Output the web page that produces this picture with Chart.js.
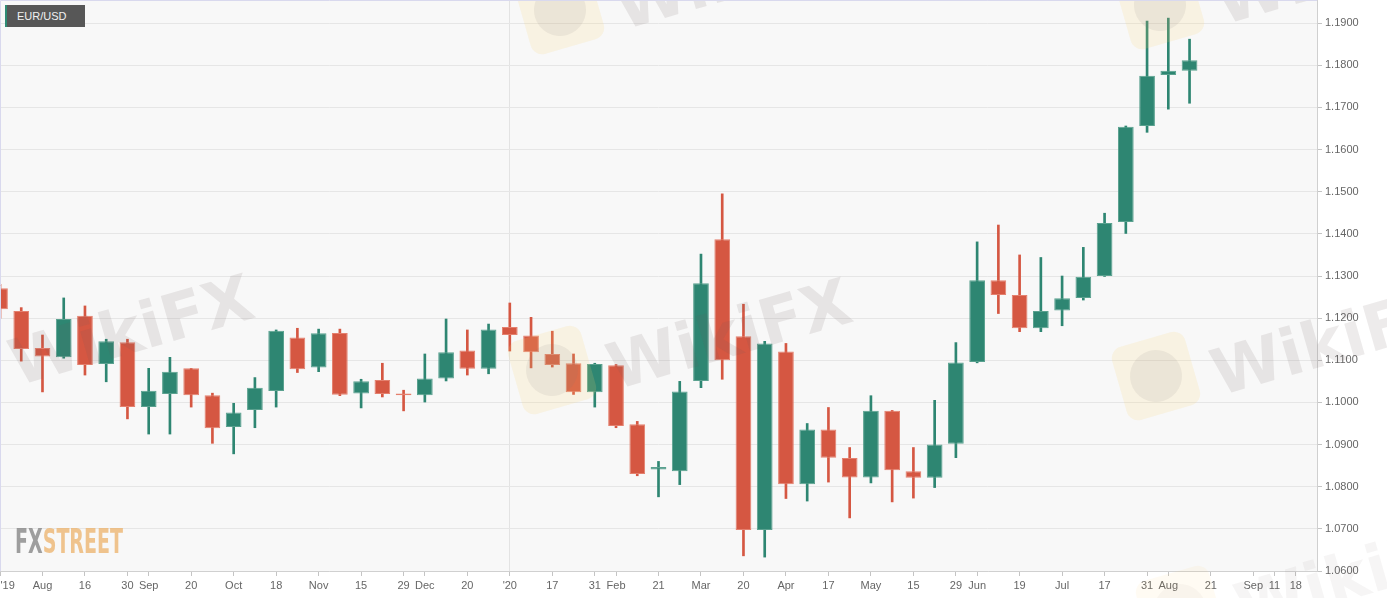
<!DOCTYPE html>
<html>
<head>
<meta charset="utf-8">
<title>EUR/USD weekly</title>
<script src="https://cdn.jsdelivr.net/npm/chart.js@4.4.0/dist/chart.umd.min.js"></script>
<style>
  html, body { margin: 0; padding: 0; background: #fff; overflow: hidden; }
  #wrap { position: relative; width: 1387px; height: 598px; }
  #pair {
    position: absolute; left: 5px; top: 5px; width: 80px; height: 22px;
    background: #575757; border-left: 2px solid #2e8b74;
    color: #f0f0f0; font: 11px "Liberation Sans", Arial, sans-serif;
    line-height: 22px; padding-left: 10px; box-sizing: border-box;
  }
</style>
</head>
<body>
<div id="wrap">
  <canvas id="chart"></canvas>
  <div id="pair">EUR/USD</div>
</div>
<script>
// one category per week, only some of them carry a tick label
const weekTicks = [
  "'19", '', 'Aug', '', '16', '', '30', 'Sep', '', '20',
  '', 'Oct', '', '18', '', 'Nov', '', '15', '', '29',
  'Dec', '', '20', '', "'20", '', '17', '', '31', 'Feb',
  '', '21', '', 'Mar', '', '20', '', 'Apr', '', '17',
  '', 'May', '', '15', '', '29', 'Jun', '', '19', '',
  'Jul', '', '17', '', '31', 'Aug', '', '21', '', 'Sep',
  '11', '18', ''
];

// weekly candles
const opens = [
  1.1271, 1.1217, 1.1129, 1.1107, 1.1206, 1.1091, 1.1143, 1.0989, 1.1020, 1.1081,
  1.1017, 1.0942, 1.0982, 1.1027, 1.1154, 1.1083, 1.1165, 1.1021, 1.1053, 1.1021,
  1.1017, 1.1057, 1.1123, 1.1080, 1.1179, 1.1159, 1.1115, 1.1093, 1.1024, 1.1088,
  1.0948, 1.0841, 1.0837, 1.1051, 1.1387, 1.1157, 1.0697, 1.1121, 1.0806, 1.0936,
  1.0868, 1.0822, 1.0980, 1.0837, 1.0821, 1.0902, 1.1096, 1.1290, 1.1255, 1.1176,
  1.1218, 1.1248, 1.1300, 1.1428, 1.1656, 1.1777, 1.1787
];
const highs = [
  1.1280, 1.1225, 1.1160, 1.1248, 1.1229, 1.1150, 1.1150, 1.1081, 1.1107, 1.1081,
  1.1022, 1.0998, 1.1059, 1.1172, 1.1176, 1.1174, 1.1174, 1.1055, 1.1093, 1.1029,
  1.1115, 1.1198, 1.1172, 1.1186, 1.1236, 1.1202, 1.1169, 1.1115, 1.1093, 1.1090,
  1.0955, 1.0860, 1.1050, 1.1352, 1.1495, 1.1233, 1.1145, 1.1140, 1.0950, 1.0988,
  1.0893, 1.1016, 1.0981, 1.0893, 1.1005, 1.1142, 1.1381, 1.1421, 1.1350, 1.1344,
  1.1300, 1.1368, 1.1449, 1.1656, 1.1905, 1.1912, 1.1862
];
const lows = [
  1.1200, 1.1098, 1.1025, 1.1105, 1.1065, 1.1049, 1.0961, 1.0925, 1.0925, 1.0989,
  1.0903, 1.0878, 1.0940, 1.0989, 1.1071, 1.1073, 1.1016, 1.0987, 1.1013, 1.0980,
  1.1001, 1.1051, 1.1065, 1.1068, 1.1122, 1.1082, 1.1084, 1.1019, 1.0989, 1.0940,
  1.0826, 1.0776, 1.0805, 1.1035, 1.1055, 1.0636, 1.0633, 1.0772, 1.0766, 1.0811,
  1.0726, 1.0809, 1.0764, 1.0773, 1.0798, 1.0869, 1.1094, 1.1211, 1.1168, 1.1168,
  1.1182, 1.1243, 1.1299, 1.1401, 1.1641, 1.1696, 1.1710
];
const closes = [
  1.1221, 1.1127, 1.1109, 1.1198, 1.1089, 1.1145, 1.0989, 1.1028, 1.1073, 1.1017,
  1.0939, 1.0976, 1.1035, 1.1170, 1.1079, 1.1164, 1.1018, 1.1050, 1.1020, 1.1017,
  1.1057, 1.1119, 1.1080, 1.1173, 1.1160, 1.1119, 1.1089, 1.1024, 1.1091, 1.0944,
  1.0830, 1.0847, 1.1026, 1.1283, 1.1100, 1.0697, 1.1140, 1.0806, 1.0936, 1.0869,
  1.0822, 1.0980, 1.0839, 1.0821, 1.0900, 1.1095, 1.1290, 1.1255, 1.1176, 1.1217,
  1.1247, 1.1298, 1.1426, 1.1654, 1.1775, 1.1787, 1.1812
];

const UP = '#2e8672';
const DOWN = '#d55742';
const UP_EDGE = '#5aa18f';
const DOWN_EDGE = '#e4806e';

const isUp = opens.map((o, i) => closes[i] >= o);
const labelFont = { family: '"Liberation Sans", Arial, sans-serif', size: 11 };

// faint site watermarks + fxstreet logo + frame
const decor = {
  id: 'decor',
  beforeDraw(chart) {
    const { ctx, chartArea: a } = chart;
    ctx.save();
    ctx.fillStyle = '#fff';
    ctx.fillRect(0, 0, chart.width, chart.height);
    ctx.fillStyle = '#f8f8f8';
    ctx.fillRect(a.left, a.top, a.right - a.left, a.bottom - a.top);
    ctx.restore();
  },
  afterDatasetsDraw(chart) {
    const { ctx, chartArea: a } = chart;

    // FXSTREET logo
    ctx.save();
    ctx.font = 'bold 34px "Liberation Sans Narrow", "DejaVu Sans Condensed", sans-serif';
    ctx.textBaseline = 'alphabetic';
    const wFx = ctx.measureText('FX').width;
    const wAll = ctx.measureText('FXSTREET').width;
    ctx.translate(15, 553);
    ctx.scale(108 / wAll, 1);
    ctx.fillStyle = 'rgba(135,135,135,0.8)';
    ctx.fillText('FX', 0, 0);
    ctx.fillStyle = 'rgba(236,178,105,0.75)';
    ctx.fillText('STREET', wFx, 0);
    ctx.restore();

    // watermarks
    const marks = [[-46, 366, 1], [552, 370, 1], [1156, 376, 1], [560, 10, 1], [1160, 5, 1], [1180, 610, 0.5]];
    ctx.save();
    ctx.beginPath();
    ctx.rect(0, 0, chart.width, chart.height);
    ctx.clip();
    marks.forEach(([x, y, k]) => {
      ctx.save();
      ctx.translate(x, y);
      ctx.rotate(-0.28);
      ctx.globalAlpha = k;
      ctx.fillStyle = 'rgba(250,212,110,0.16)';
      ctx.beginPath();
      ctx.roundRect(-38, -38, 76, 76, 12);
      ctx.fill();
      ctx.fillStyle = 'rgba(130,115,115,0.10)';
      ctx.beginPath();
      ctx.arc(0, 0, 26, 0, Math.PI * 2);
      ctx.fill();
      ctx.font = 'bold 64px "DejaVu Sans", sans-serif';
      ctx.textBaseline = 'middle';
      ctx.fillStyle = 'rgba(110,90,90,0.12)';
      ctx.fillText('WikiFX', 55, 20);
      ctx.restore();
    });
    ctx.restore();

    // frame on top / left
    ctx.save();
    ctx.strokeStyle = '#d9d9ee';
    ctx.lineWidth = 1;
    ctx.beginPath();
    ctx.moveTo(0.5, a.bottom);
    ctx.lineTo(0.5, 0.5);
    ctx.lineTo(a.right, 0.5);
    ctx.stroke();
    ctx.restore();
  }
};

new Chart(document.getElementById('chart'), {
  type: 'bar',
  data: {
    labels: weekTicks,
    datasets: [
      {
        label: 'body',
        data: opens.map((o, i) => [o, closes[i]]),
        backgroundColor: isUp.map(u => u ? UP : DOWN),
        borderColor: isUp.map(u => u ? UP_EDGE : DOWN_EDGE),
        borderWidth: 1,
        borderSkipped: false,
        grouped: false,
        categoryPercentage: 1,
        barPercentage: 0.74
      },
      {
        label: 'wick',
        data: lows.map((l, i) => [l, highs[i]]),
        backgroundColor: isUp.map(u => u ? UP : DOWN),
        borderWidth: 0,
        grouped: false,
        barThickness: 2
      }
    ]
  },
  options: {
    responsive: true,
    maintainAspectRatio: false,
    animation: false,
    layout: { padding: 0 },
    plugins: {
      legend: { display: false },
      tooltip: { enabled: false }
    },
    scales: {
      x: {
        type: 'category',
        offset: false,
        grid: {
          offset: false,
          color: c => c.index === 24 ? '#e3e3e3' : 'rgba(0,0,0,0)',
          tickLength: 5,
          tickColor: c => weekTicks[c.index] ? '#c4c4c4' : 'rgba(0,0,0,0)'
        },
        border: { color: '#d0d0d0' },
        ticks: {
          autoSkip: false,
          maxRotation: 0,
          padding: 3,
          color: '#666',
          font: labelFont,
          callback: (v, i) => i === 0 ? '     ' + weekTicks[0] : weekTicks[i]
        },
        afterFit: s => { s.height = 27; s.paddingLeft = 0; s.paddingRight = 0; }
      },
      y: {
        position: 'right',
        min: 1.06,
        max: 1.1955,
        grid: { color: '#e6e6e6', tickLength: 5, tickColor: '#c4c4c4' },
        border: { color: '#d0d0d0' },
        ticks: {
          stepSize: 0.01,
          includeBounds: false,
          padding: 3,
          color: '#666',
          font: labelFont,
          callback: v => Number(v).toFixed(4)
        },
        afterFit: s => { s.width = 70; s.paddingTop = 0; s.paddingBottom = 0; }
      }
    }
  },
  plugins: [decor]
});
</script>
</body>
</html>
